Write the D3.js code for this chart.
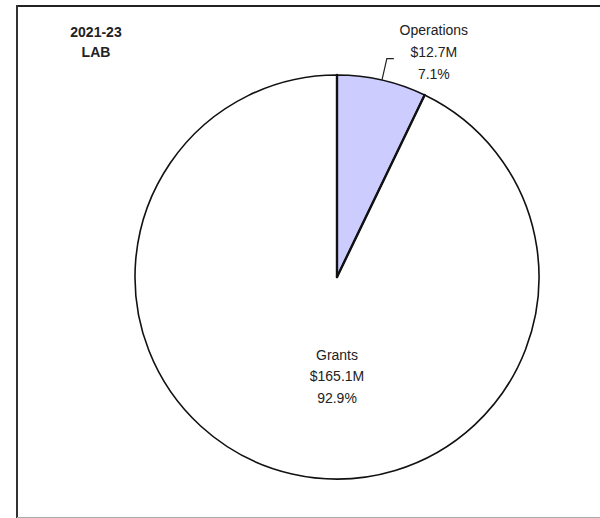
<!DOCTYPE html>
<html>
<head>
	<title>2021-23 LAB</title>
	<style>
		body { margin: 0; background: #fff; }
		text { font-family: Arial, "Liberation Sans", sans-serif; fill: #222; }
	</style>
</head>
<body>
	<svg id="canvas" width="600" height="518"></svg>
	<script src="https://cdn.jsdelivr.net/npm/d3@7"></script>
	<script>
		// data
		let categories = ["Operations", "Grants"];
		let amounts = [12.7, 165.1];           // $M
		let amountLabels = ["$12.7M", "$165.1M"];
		let percentLabels = ["7.1%", "92.9%"];
		let colors = ["#ccccff", "#ffffff"];
		let titleLines = ["2021-23", "LAB"];

		let data = categories.map(function(c, i) {
			return { name: c, value: amounts[i], amount: amountLabels[i], pct: percentLabels[i], color: colors[i] };
		});

		let svg = d3.select("#canvas");

		// frame (right side runs off the picture)
		svg.append("line").attr("x1", 17).attr("y1", 6).attr("x2", 600).attr("y2", 6)
			.attr("stroke", "#222").attr("stroke-width", 2);
		svg.append("line").attr("x1", 17).attr("y1", 5).attr("x2", 17).attr("y2", 518)
			.attr("stroke", "#333").attr("stroke-width", 2);
		svg.append("line").attr("x1", 17).attr("y1", 517.5).attr("x2", 600).attr("y2", 517.5)
			.attr("stroke", "#aaa").attr("stroke-width", 1);

		// title
		svg.append("g").selectAll("text")
			.data(titleLines)
			.enter().append("text")
				.attr("x", 96)
				.attr("y", function(d, i) { return 37 + i * 20; })
				.attr("text-anchor", "middle")
				.attr("font-size", "14px")
				.attr("font-weight", "bold")
				.text(function(d) { return d; });

		let cx = 337, cy = 277, radius = 202;
		let g = svg.append("g").attr("transform", "translate(" + cx + "," + cy + ")");

		let pie = d3.pie().sort(null).value(function(d) { return d.value; });
		let arc = d3.arc().innerRadius(0).outerRadius(radius);
		let arcs = pie(data);

		g.selectAll("path.slice")
			.data(arcs)
			.enter().append("path")
				.attr("class", "slice")
				.attr("d", arc)
				.attr("fill", function(d) { return d.data.color; })
				.attr("stroke", "#111")
				.attr("stroke-width", 1.6)
				.attr("stroke-linejoin", "round");

		// radial edges drawn a bit heavier, as in the original
		g.selectAll("line.edge")
			.data(arcs)
			.enter().append("line")
				.attr("class", "edge")
				.attr("x1", 0).attr("y1", 0)
				.attr("x2", function(d) { return Math.sin(d.startAngle) * radius; })
				.attr("y2", function(d) { return -Math.cos(d.startAngle) * radius; })
				.attr("stroke", "#111")
				.attr("stroke-width", 2.4)
				.attr("stroke-linecap", "round");

		// Operations: outside label with leader line
		let ops = arcs[0];
		let mid = (ops.startAngle + ops.endAngle) / 2;
		let p0 = [Math.sin(mid) * radius, -Math.cos(mid) * radius];
		let p1 = [Math.sin(mid) * (radius + 22), -Math.cos(mid) * (radius + 22)];
		let p2 = [p1[0] + 7, p1[1]];
		g.append("polyline")
			.attr("points", [p0, p1, p2].map(function(p) { return p.join(","); }).join(" "))
			.attr("fill", "none")
			.attr("stroke", "#222")
			.attr("stroke-width", 1.2);

		let opsLines = [ops.data.name, ops.data.amount, ops.data.pct];
		g.append("g").selectAll("text")
			.data(opsLines)
			.enter().append("text")
				.attr("x", p2[0] + 40)
				.attr("y", function(d, i) { return p2[1] - 24 + i * 22; })
				.attr("text-anchor", "middle")
				.attr("font-size", "14px")
				.text(function(d) { return d; });

		// Grants: label inside
		let gr = arcs[1];
		let grLines = [gr.data.name, gr.data.amount, gr.data.pct];
		g.append("g").selectAll("text")
			.data(grLines)
			.enter().append("text")
				.attr("x", 0)
				.attr("y", function(d, i) { return radius * 0.41 + i * 21.5; })
				.attr("text-anchor", "middle")
				.attr("font-size", "14px")
				.text(function(d) { return d; });
	</script>
</body>
</html>
